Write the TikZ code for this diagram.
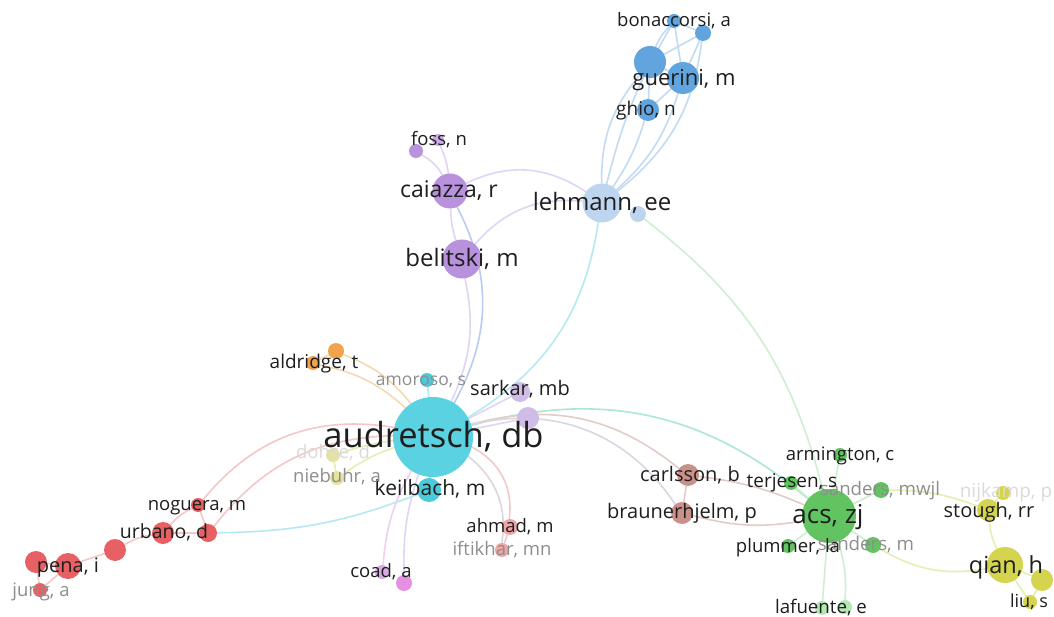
\documentclass[tikz,border=0pt]{standalone}
\usepackage{fontspec}
\setmainfont{Open Sans}
\usetikzlibrary{backgrounds}

% node fills
\definecolor{cyanC}{HTML}{5AD2E2}
\definecolor{cyanD}{HTML}{4CCADC}
\definecolor{lblueC}{HTML}{BED5EF}
\definecolor{blueC}{HTML}{62A5DE}
\definecolor{purpC}{HTML}{B992DE}
\definecolor{purpL}{HTML}{C9ABE6}
\definecolor{lpurpC}{HTML}{D0BDE7}
\definecolor{orangeC}{HTML}{F2A34E}
\definecolor{redC}{HTML}{E66064}
\definecolor{brownC}{HTML}{CA918A}
\definecolor{greenC}{HTML}{62C460}
\definecolor{lgreenC}{HTML}{B6E7B4}
\definecolor{yellowC}{HTML}{D4D44E}
\definecolor{pyellowC}{HTML}{E4E4A0}
\definecolor{pinkC}{HTML}{EEA6A6}
\definecolor{orchidC}{HTML}{DAA8E2}
\definecolor{magentaC}{HTML}{E690E1}
% links
\definecolor{ecyan}{HTML}{B6E8F1}
\definecolor{epurp}{HTML}{E2D4F4}
\definecolor{emix}{HTML}{B9CCF2}
\definecolor{eblue}{HTML}{C2DBF3}
\definecolor{egreen}{HTML}{ABE9CC}
\definecolor{elgreen}{HTML}{CFEFD1}
\definecolor{ered}{HTML}{F5C7C7}
\definecolor{eorange}{HTML}{F3D9B4}
\definecolor{ebrown}{HTML}{E3CCC8}
\definecolor{egray}{HTML}{DBD6DF}
\definecolor{eyellow}{HTML}{E6EEB2}
\definecolor{epink}{HTML}{F0CFF0}
% label text
\definecolor{txt}{HTML}{1E1E1E}
\definecolor{txtg}{HTML}{8E8E8E}
\definecolor{txtf}{HTML}{DADADA}

\tikzset{
  nd/.style={circle, inner sep=0pt, outer sep=0pt, draw=none, minimum size=#1},
  lab/.style={inner sep=0pt, anchor=base, text=txt, font=\fontsize{#1}{#1}\selectfont},
  lab/.default=18.5,
  grey/.style={text=txtg},
  faint/.style={text=txtf},
  e/.style={line width=1.6pt},
}

\begin{document}
\begin{tikzpicture}[x=1pt,y=-1pt]
\path[use as bounding box] (0,0) rectangle (1054,617);

% ---------- circles ----------
\node[nd=80pt, fill=cyanC] (aud) at (433,437) {};
\node[nd=14pt, fill=cyanD] (amo) at (427,380) {};
\node[nd=24pt, fill=cyanD] (kei) at (429,490) {};
\node[nd=39pt, fill=lblueC] (leh) at (602,203) {};
\node[nd=16pt, fill=lblueC] (leh2) at (638,214) {};
\node[nd=39pt, fill=purpC] (bel) at (462,259) {};
\node[nd=35pt, fill=purpC] (cai) at (450,191) {};
\node[nd=14pt, fill=purpC] (foss1) at (416,151) {};
\node[nd=12pt, fill=purpL] (foss2) at (438,140) {};
\node[nd=32pt, fill=blueC] (bigb) at (650,62) {};
\node[nd=32pt, fill=blueC] (gue) at (683,78) {};
\node[nd=14pt, fill=blueC] (bon1) at (674,21) {};
\node[nd=16pt, fill=blueC] (bon2) at (703,33) {};
\node[nd=22pt, fill=blueC] (ghio) at (648,110) {};
\node[nd=16pt, fill=orangeC] (ald2) at (336,351) {};
\node[nd=14pt, fill=orangeC] (ald1) at (313,363) {};
\node[nd=20pt, fill=lpurpC] (sar1) at (520,392) {};
\node[nd=22pt, fill=lpurpC] (sar2) at (528,418) {};
\node[nd=14pt, fill=pyellowC] (doh) at (333,455) {};
\node[nd=14pt, fill=pyellowC] (nie) at (337,478) {};
\node[nd=14pt, fill=redC] (nog) at (198,505) {};
\node[nd=22pt, fill=redC] (urb) at (163,533) {};
\node[nd=18pt, fill=redC] (red2) at (208,533) {};
\node[nd=22pt, fill=redC] (red3) at (115,550) {};
\node[nd=26pt, fill=redC] (pena) at (68,566) {};
\node[nd=22pt, fill=redC] (red4) at (36,562) {};
\node[nd=14pt, fill=redC] (jung) at (40,590) {};
\node[nd=16pt, fill=pinkC] (ahm) at (510,527) {};
\node[nd=14pt, fill=pinkC] (ift) at (502,550) {};
\node[nd=14pt, fill=orchidC] (coad1) at (382,572) {};
\node[nd=16pt, fill=magentaC] (coad2) at (404,583) {};
\node[nd=22pt, fill=brownC] (carl) at (688,475) {};
\node[nd=22pt, fill=brownC] (brau) at (682,513) {};
\node[nd=54pt, fill=greenC] (acs) at (829,516) {};
\node[nd=14pt, fill=greenC] (ter) at (791,483) {};
\node[nd=14pt, fill=greenC] (arm) at (840,455) {};
\node[nd=16pt, fill=greenC] (smw) at (881,490) {};
\node[nd=14pt, fill=greenC] (plu) at (788,546) {};
\node[nd=16pt, fill=greenC] (sm) at (873,545) {};
\node[nd=14pt, fill=lgreenC] (laf1) at (822,608) {};
\node[nd=14pt, fill=lgreenC] (laf2) at (845,607) {};
\node[nd=14pt, fill=yellowC] (nij) at (1003,493) {};
\node[nd=22pt, fill=yellowC] (sto) at (988,510) {};
\node[nd=36pt, fill=yellowC] (qian) at (1005,565) {};
\node[nd=22pt, fill=yellowC] (yel2) at (1042,580) {};
\node[nd=14pt, fill=yellowC] (liu) at (1030,602) {};

% ---------- links ----------
\begin{scope}[on background layer]
\fill[white] (0,0) rectangle (1054,617);
% blue group
\draw[e,eblue] (bigb) -- (gue);
\draw[e,eblue] (bon1) -- (bon2);
\draw[e,eblue] (bon1) to[bend right=10] (bigb);
\draw[e,eblue] (bon1) -- (gue);
\draw[e,eblue] (bon2) -- (bigb);
\draw[e,eblue] (bon2) -- (gue);
\draw[e,eblue] (ghio) -- (bigb);
\draw[e,eblue] (ghio) -- (gue);
\draw[e,eblue] (leh) to[bend left=20] (bigb);
\draw[e,eblue] (leh) to[bend right=8] (ghio);
\draw[e,eblue] (leh) to[bend right=15] (gue);
\draw[e,eblue] (leh) to[bend right=22] (bon2);
\draw[e,eblue] (leh) to[bend left=8] (bon1);
% purple group
\draw[e,epurp] (foss1) to[bend left=15] (cai);
\draw[e,epurp] (foss2) to[bend left=8] (cai);
\draw[e,epurp] (cai) to[bend right=8] (bel);
\draw[e,epurp] (cai) to[bend left=30] (leh);
\draw[e,epurp] (bel) to[bend left=27] (leh);
\draw[e,emix] (cai) to[bend left=28] (aud);
\draw[e,epurp] (bel) to[bend left=18] (aud);
% central links
\draw[e,ecyan] (aud) to[bend right=25] (leh);
\draw[e,ecyan] (amo) -- (aud);
\draw[e,ecyan] (kei) -- (aud);
\draw[e,epurp] (sar1) -- (aud);
\draw[e,epurp] (sar2) -- (aud);
\draw[e,eorange] (ald2) to[bend left=15] (aud);
\draw[e,eorange] (ald1) to[bend left=15] (aud);
\draw[e,eorange] (ald1) -- (ald2);
\draw[e,eyellow] (doh) to[bend left=5] (aud);
\draw[e,eyellow] (nie) to[bend left=8] (aud);
\draw[e,eyellow] (doh) -- (nie);
\draw[e,ered] (nog) to[bend left=30] (aud);
\draw[e,ered] (red2) to[bend left=25] (aud);
\draw[e,ecyan] (red2) to[bend right=10] (kei);
\draw[e,epink] (coad1) to[bend left=12] (aud);
\draw[e,epurp] (coad2) to[bend left=10] (aud);
\draw[e,ered] (ahm) to[bend right=35] (aud);
\draw[e,egray] (ift) to[bend right=30] (aud);
\draw[e,ered] (ahm) -- (ift);
% links to the green group
\draw[e,egreen] (aud) to[bend left=28] (acs);
\draw[e,ebrown] (aud) to[bend left=27] (carl);
\draw[e,egray] (aud) to[bend left=35] (brau);
\draw[e,ebrown] (carl) to[bend left=8] (acs);
\draw[e,ebrown] (brau) to[bend right=12] (acs);
\draw[e,ebrown] (carl) -- (brau);
\draw[e,elgreen] (leh2) to[bend left=19] (acs);
\draw[e,elgreen] (acs) -- (arm);
\draw[e,elgreen] (acs) -- (ter);
\draw[e,elgreen] (acs) -- (smw);
\draw[e,elgreen] (acs) -- (plu);
\draw[e,elgreen] (acs) -- (sm);
\draw[e,elgreen] (acs) -- (laf1);
\draw[e,elgreen] (acs) to[bend left=10] (laf2);
\draw[e,eyellow] (smw) to[bend left=10] (sto);
\draw[e,eyellow] (sm) to[bend right=20] (qian);
\draw[e,eyellow] (sto) to[bend right=10] (qian);
\draw[e,eyellow] (sto) -- (nij);
\draw[e,eyellow] (qian) -- (yel2);
\draw[e,eyellow] (qian) -- (liu);
\draw[e,eyellow] (yel2) -- (liu);
% red group
\draw[e,ered] (nog) -- (red2);
\draw[e,ered] (nog) to[bend right=10] (urb);
\draw[e,ered] (urb) -- (red2);
\draw[e,ered] (urb) to[bend right=10] (red3);
\draw[e,ered] (red3) -- (pena);
\draw[e,ered] (pena) -- (red4);
\draw[e,ered] (red4) -- (jung);
\draw[e,ered] (pena) -- (jung);
\end{scope}

% ---------- labels ----------
\node[lab=34.5] (l-aud) at (433.5,447) {audretsch, db};
\node[lab=26] (l-acs) at (828,523) {acs, zj};
\node[lab=24] (l-leh) at (602,211) {lehmann, ee};
\node[lab=24] (l-bel) at (462,267) {belitski, m};
\node[lab=23] (l-cai) at (449,198) {caiazza, r};
\node[lab] (l-foss) at (439,146) {foss, n};
\node[lab=22] (l-gue) at (684,86) {guerini, m};
\node[lab] (l-bon) at (674,27) {bonaccorsi, a};
\node[lab=19] (l-ghio) at (646,116) {ghio, n};
\node[lab=19] (l-ald) at (314,368) {aldridge, t};
\node[lab=17.5, grey] (l-amo) at (421,385) {amoroso, s};
\node[lab=20] (l-sar) at (520,395) {sarkar, mb};
\node[lab=21] (l-kei) at (430,495) {keilbach, m};
\node[lab, faint] (l-doh) at (333,458) {dohse, d};
\node[lab, grey] (l-nie) at (337,482) {niebuhr, a};
\node[lab] (l-nog) at (197,510) {noguera, m};
\node[lab=19.5] (l-urb) at (164,538) {urbano, d};
\node[lab=20] (l-pena) at (68,572) {pena, i};
\node[lab, grey] (l-jung) at (41,596) {jung, a};
\node[lab] (l-ahm) at (510,532) {ahmad, m};
\node[lab, grey] (l-ift) at (502,555) {iftikhar, mn};
\node[lab] (l-coad) at (381,577) {coad, a};
\node[lab=20] (l-carl) at (690,481) {carlsson, b};
\node[lab=20] (l-brau) at (682,518) {braunerhjelm, p};
\node[lab=18.7, grey] (l-smw) at (880,495) {sanders, mwjl};
\node[lab=18.7, grey] (l-sm) at (866,550) {sanders, m};
\node[lab=19] (l-ter) at (792,487) {terjesen, s};
\node[lab] (l-arm) at (840,460) {armington, c};
\node[lab] (l-plu) at (788,552) {plummer, la};
\node[lab=18.7] (l-laf) at (821,613) {lafuente, e};
\node[lab=19, faint] (l-nij) at (1006,497) {nijkamp, p};
\node[lab=20] (l-sto) at (989,517) {stough, rr};
\node[lab=23.5] (l-qian) at (1006,573) {qian, h};
\node[lab=18] (l-liu) at (1029,607) {liu, s};
\end{tikzpicture}
\end{document}
